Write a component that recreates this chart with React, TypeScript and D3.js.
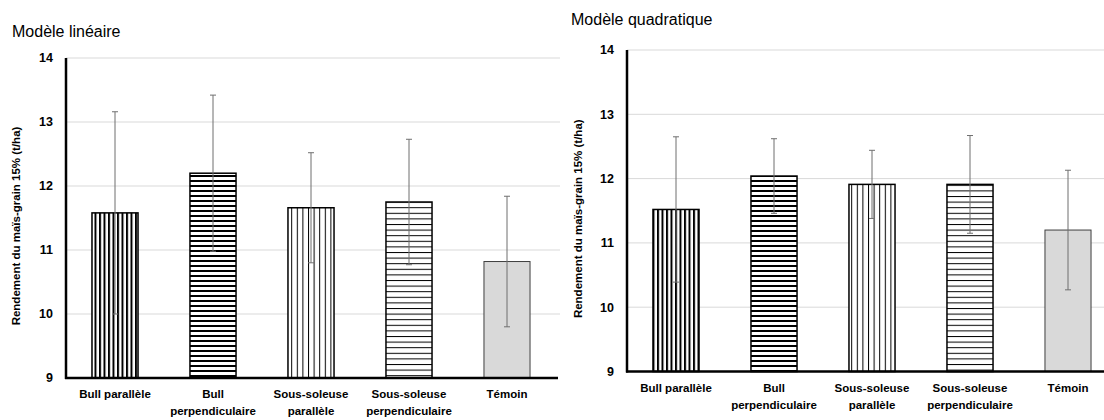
import * as d3 from 'd3'

const categories = [
  ['Bull parallèle'],
  ['Bull', 'perpendiculaire'],
  ['Sous-soleuse', 'parallèle'],
  ['Sous-soleuse', 'perpendiculaire'],
  ['Témoin'],
]
const linearMeans = [11.58, 12.2, 11.66, 11.75, 10.82]
const linearErr = [1.58, 1.22, 0.86, 0.98, 1.02]
const quadMeans = [11.52, 12.04, 11.91, 11.91, 11.2]
const quadErr = [1.13, 0.58, 0.53, 0.76, 0.93]
const yTicks = [9, 10, 11, 12, 13, 14]
const yTitle = 'Rendement du maïs-grain 15% (t/ha)'

const W = 1104, H = 420
const FONT = 'Liberation Sans, Arial, sans-serif'
const fills = ['vThick', 'hThick', 'vThin', 'hThin', 'grey']

interface PanelProps {
  id: string
  title: string
  titleX: number
  titleY: number
  x0: number
  top: number
  bottom: number
  yTitleX: number
  means: number[]
  errs: number[]
}

function Patterns({ id }: { id: string }) {
  return (
    <defs>
      <pattern id={`${id}-vThick`} patternUnits="userSpaceOnUse" width={4.5} height={10}>
        <rect width={4.5} height={10} fill="#fff" />
        <rect x={0} width={2} height={10} fill="#000" />
      </pattern>
      <pattern id={`${id}-hThick`} patternUnits="userSpaceOnUse" width={10} height={5}>
        <rect width={10} height={5} fill="#fff" />
        <rect y={0} width={10} height={2} fill="#000" />
      </pattern>
      <pattern id={`${id}-vThin`} patternUnits="userSpaceOnUse" width={5.6} height={10}>
        <rect width={5.6} height={10} fill="#fff" />
        <rect x={0} width={1} height={10} fill="#000" />
      </pattern>
      <pattern id={`${id}-hThin`} patternUnits="userSpaceOnUse" width={10} height={5.6}>
        <rect width={10} height={5.6} fill="#fff" />
        <rect y={0} width={10} height={1} fill="#000" />
      </pattern>
    </defs>
  )
}

function Panel({ id, title, titleX, titleY, x0, top, bottom, yTitleX, means, errs }: PanelProps) {
  const x = d3.scaleBand<number>()
    .domain(d3.range(categories.length))
    .range([x0, x0 + 490])
    .paddingInner(0.53)
    .paddingOuter(0.265)
  const y = d3.scaleLinear().domain([9, 14]).range([bottom, top])
  const right = x0 + 490

  return (
    <g>
      <Patterns id={id} />
      <text x={titleX} y={titleY} fontFamily={FONT} fontSize={16} fill="#000">{title}</text>
      {/* gridlines */}
      {yTicks.filter(t => t > 9).map(t => (
        <line key={t} x1={x0} x2={right + 4} y1={y(t)} y2={y(t)} stroke="#d9d9d9" strokeWidth={1} />
      ))}
      {/* tick labels */}
      {yTicks.map(t => (
        <text key={t} x={x0 - 13} y={y(t)} dy="0.35em" textAnchor="end"
          fontFamily={FONT} fontSize={12.5} fontWeight="bold" fill="#000">{t}</text>
      ))}
      <text transform={`translate(${yTitleX},${(top + bottom) / 2 + 8}) rotate(-90)`} textAnchor="middle"
        dy="0.35em" fontFamily={FONT} fontSize={11.5} fontWeight="bold" fill="#000">{yTitle}</text>
      {/* bars */}
      {means.map((m, i) => {
        const bx = x(i)!
        const isGrey = fills[i] === 'grey'
        return (
          <rect key={i} x={bx} y={y(m)} width={x.bandwidth()} height={bottom - y(m)}
            fill={isGrey ? '#d9d9d9' : `url(#${id}-${fills[i]})`}
            stroke={isGrey ? '#3f3f3f' : '#000'} strokeWidth={isGrey ? 1 : 1.5} />
        )
      })}
      {/* error bars */}
      {means.map((m, i) => {
        const cx = x(i)! + x.bandwidth() / 2
        const hi = y(m + errs[i]), lo = y(m - errs[i])
        return (
          <g key={i} stroke="#6f6f6f" strokeWidth={1}>
            <line x1={cx} x2={cx} y1={hi} y2={lo} />
            <line x1={cx - 3} x2={cx + 3} y1={hi} y2={hi} />
            <line x1={cx - 3} x2={cx + 3} y1={lo} y2={lo} />
          </g>
        )
      })}
      {/* axes */}
      <line x1={x0} x2={x0} y1={top} y2={bottom + 1} stroke="#000" strokeWidth={2.5} />
      <line x1={x0 - 1} x2={right + 2} y1={bottom} y2={bottom} stroke="#000" strokeWidth={2.5} />
      {/* category labels */}
      {categories.map((lines, i) => (
        <text key={i} x={x(i)! + x.bandwidth() / 2} y={bottom + 20} textAnchor="middle"
          fontFamily={FONT} fontSize={11.5} fontWeight="bold" fill="#000">
          {lines.map((l, j) => (
            <tspan key={j} x={x(i)! + x.bandwidth() / 2} dy={j === 0 ? 0 : 17}>{l}</tspan>
          ))}
        </text>
      ))}
    </g>
  )
}

export default function App() {
  return (
    <div style={{ position: 'absolute', left: 0, top: 0 }}>
      <svg width={W} height={H} viewBox={`0 0 ${W} ${H}`} style={{ display: 'block', background: '#fff' }}>
        <Panel id="lin" title="Modèle linéaire" titleX={12} titleY={37} x0={66} top={58} bottom={378}
          yTitleX={16} means={linearMeans} errs={linearErr} />
        <Panel id="quad" title="Modèle quadratique" titleX={571} titleY={25} x0={627} top={50} bottom={371.5}
          yTitleX={578} means={quadMeans} errs={quadErr} />
      </svg>
    </div>
  )
}
